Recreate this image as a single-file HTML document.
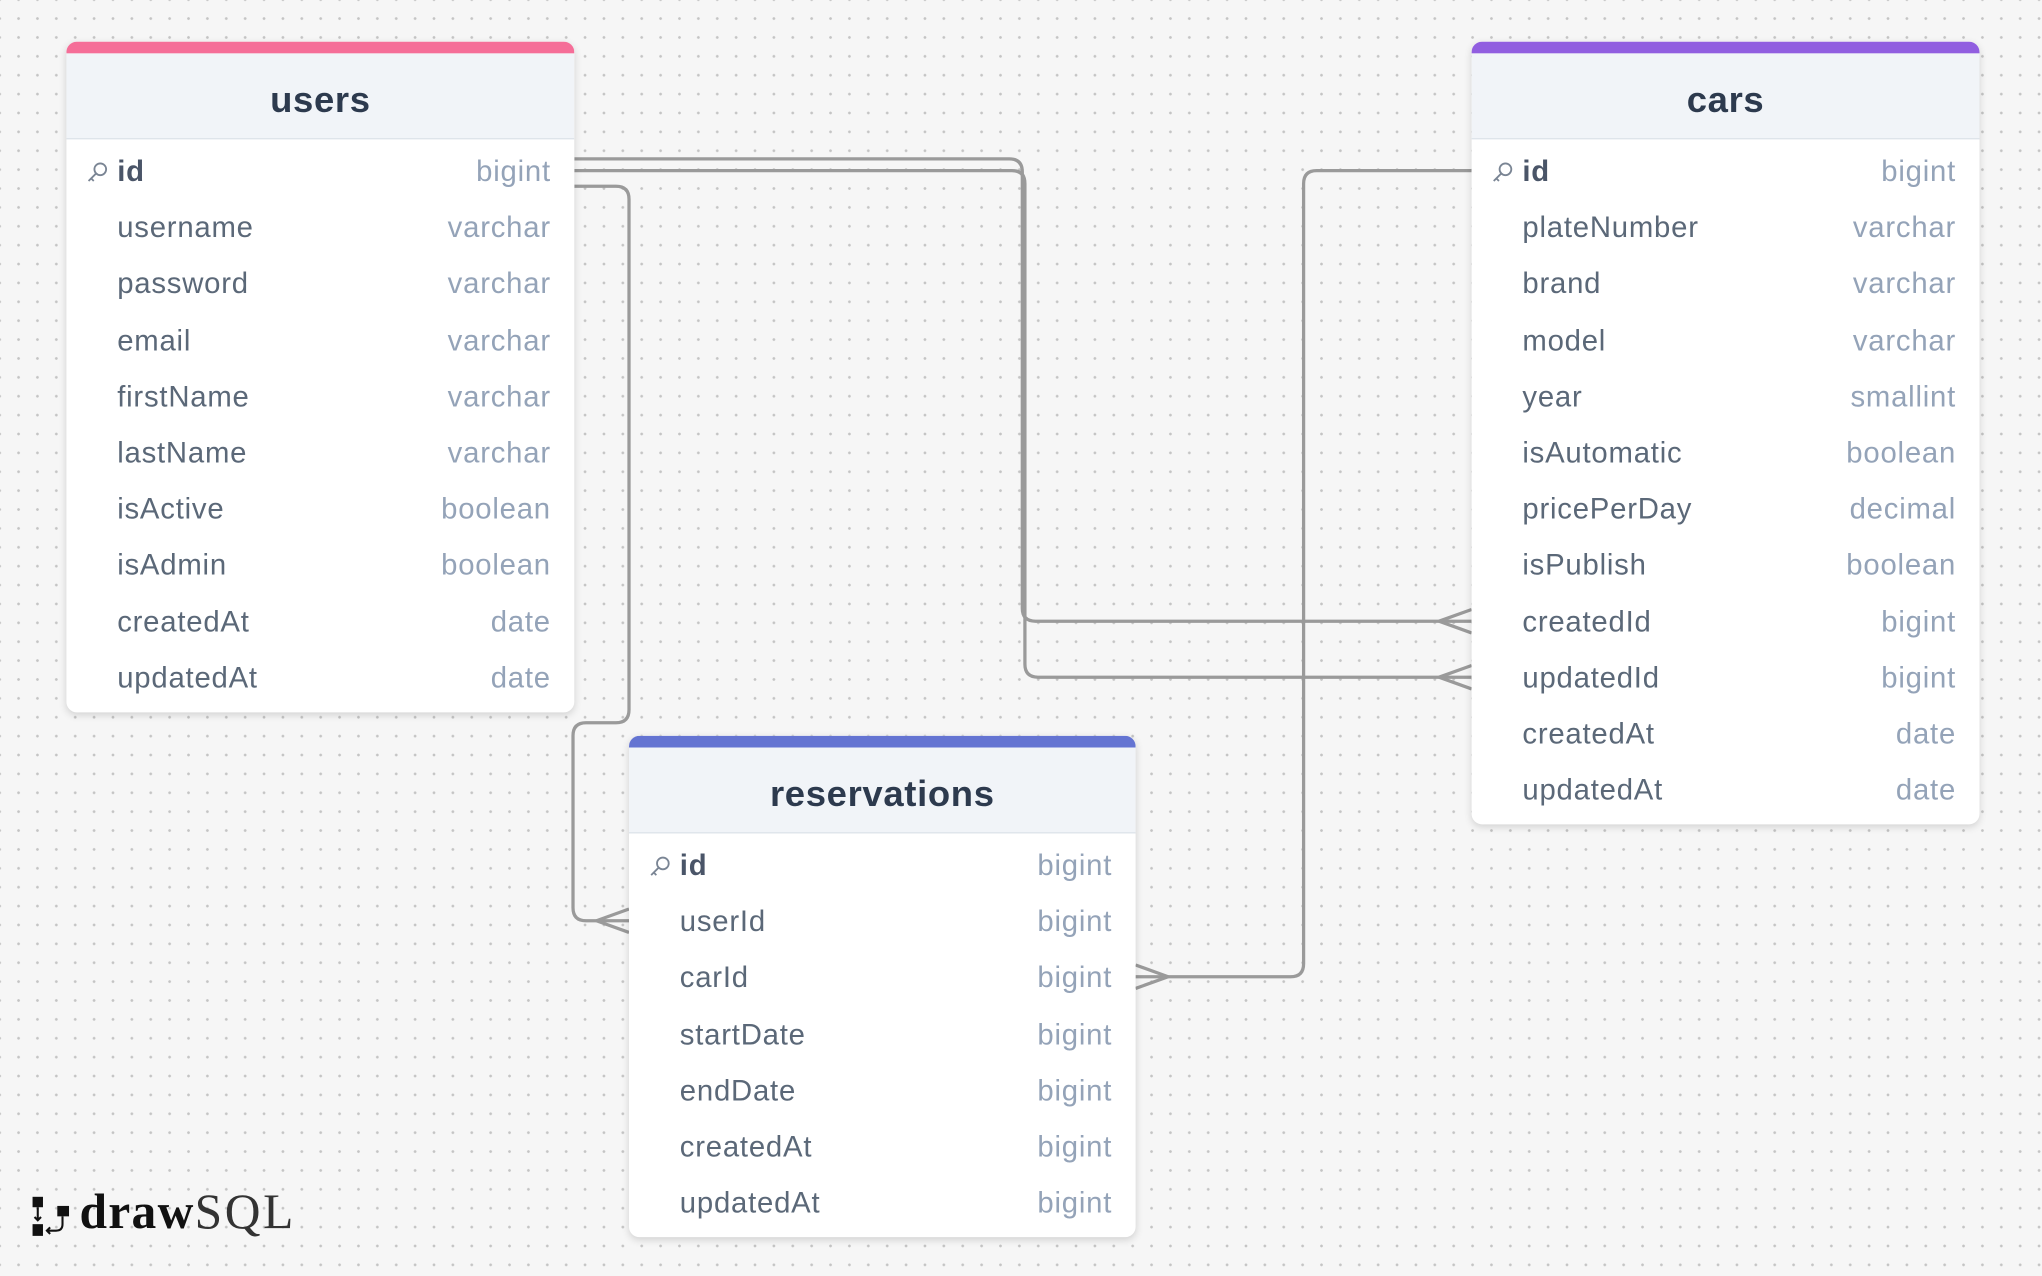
<!DOCTYPE html>
<html><head><meta charset="utf-8"><style>
html,body{margin:0;padding:0;width:2042px;height:1276px;overflow:hidden;background:#f6f6f6;}
#c{position:absolute;left:0;top:0;width:1568px;height:980px;transform:scale(1.302296);transform-origin:0 0;
background-color:#f6f6f6;background-image:radial-gradient(circle,#c4c4c4 0.9px,transparent 1.2px);background-size:14.5px 14.5px;background-position:7px 7px;
font-family:"Liberation Sans",sans-serif;}
.t{position:absolute;background:#fff;border-radius:8px;box-shadow:0 2px 6px rgba(0,0,0,.15);overflow:hidden;}
.bar{height:9px;}
.h{height:65px;background:#f1f4f8;border-bottom:1px solid #dde3ea;text-align:center;line-height:72px;font-size:28px;font-weight:bold;color:#2d3a4e;letter-spacing:0.5px;}
.rows{padding-top:3px;}
.r{height:43.2px;position:relative;font-size:22.5px;line-height:43.2px;letter-spacing:0.6px;}
.n{position:absolute;left:39px;color:#5b6878;}
.ty{position:absolute;right:18px;color:#94a3b8;}
.pk .n{font-weight:bold;color:#4a5568;}
.k{position:absolute;left:15px;top:13px;}
svg.l{position:absolute;left:0;top:0;}
</style></head><body><div id="c">
<svg class="l" width="1568" height="980" fill="none" stroke="#9a9a9a" stroke-width="2.5">
<path d="M441,122 H775 Q785,122 785,132 V467 Q785,477 795,477 H1130"/>
<path d="M441,131 H777 Q787,131 787,141 V510 Q787,520 797,520 H1130"/>
<path d="M1105,477 L1130,468 M1105,477 L1130,486 M1105,520 L1130,511 M1105,520 L1130,529"/>
<path d="M441,143 H473 Q483,143 483,153 V545 Q483,555 473,555 H450 Q440,555 440,565 V697 Q440,707 450,707 H483"/>
<path d="M458,707 L483,698 M458,707 L483,716"/>
<path d="M1130,131 H1011 Q1001,131 1001,141 V740 Q1001,750 991,750 H872"/>
<path d="M897,750 L872,741 M897,750 L872,759"/>
</svg>

<div class="t" style="left:51px;top:32px;width:390px;height:515px;">
<div class="bar" style="background:#f56e98"></div><div class="h">users</div>
<div class="rows">
<div class="r pk"><svg class="k" width="18" height="18" viewBox="0 0 18 18" fill="none" stroke="#7a8594" stroke-width="1.4"><circle cx="11" cy="7" r="4.5"/><path d="M8,10 L2,16 M4,14 L6,16"/></svg><span class="n">id</span><span class="ty">bigint</span></div>
<div class="r"><span class="n">username</span><span class="ty">varchar</span></div>
<div class="r"><span class="n">password</span><span class="ty">varchar</span></div>
<div class="r"><span class="n">email</span><span class="ty">varchar</span></div>
<div class="r"><span class="n">firstName</span><span class="ty">varchar</span></div>
<div class="r"><span class="n">lastName</span><span class="ty">varchar</span></div>
<div class="r"><span class="n">isActive</span><span class="ty">boolean</span></div>
<div class="r"><span class="n">isAdmin</span><span class="ty">boolean</span></div>
<div class="r"><span class="n">createdAt</span><span class="ty">date</span></div>
<div class="r"><span class="n">updatedAt</span><span class="ty">date</span></div>
</div></div>

<div class="t" style="left:1130px;top:32px;width:390px;height:601px;">
<div class="bar" style="background:#915ee0"></div><div class="h">cars</div>
<div class="rows">
<div class="r pk"><svg class="k" width="18" height="18" viewBox="0 0 18 18" fill="none" stroke="#7a8594" stroke-width="1.4"><circle cx="11" cy="7" r="4.5"/><path d="M8,10 L2,16 M4,14 L6,16"/></svg><span class="n">id</span><span class="ty">bigint</span></div>
<div class="r"><span class="n">plateNumber</span><span class="ty">varchar</span></div>
<div class="r"><span class="n">brand</span><span class="ty">varchar</span></div>
<div class="r"><span class="n">model</span><span class="ty">varchar</span></div>
<div class="r"><span class="n">year</span><span class="ty">smallint</span></div>
<div class="r"><span class="n">isAutomatic</span><span class="ty">boolean</span></div>
<div class="r"><span class="n">pricePerDay</span><span class="ty">decimal</span></div>
<div class="r"><span class="n">isPublish</span><span class="ty">boolean</span></div>
<div class="r"><span class="n">createdId</span><span class="ty">bigint</span></div>
<div class="r"><span class="n">updatedId</span><span class="ty">bigint</span></div>
<div class="r"><span class="n">createdAt</span><span class="ty">date</span></div>
<div class="r"><span class="n">updatedAt</span><span class="ty">date</span></div>
</div></div>

<div class="t" style="left:483px;top:565px;width:389px;height:385px;">
<div class="bar" style="background:#6474d2"></div><div class="h">reservations</div>
<div class="rows">
<div class="r pk"><svg class="k" width="18" height="18" viewBox="0 0 18 18" fill="none" stroke="#7a8594" stroke-width="1.4"><circle cx="11" cy="7" r="4.5"/><path d="M8,10 L2,16 M4,14 L6,16"/></svg><span class="n">id</span><span class="ty">bigint</span></div>
<div class="r"><span class="n">userId</span><span class="ty">bigint</span></div>
<div class="r"><span class="n">carId</span><span class="ty">bigint</span></div>
<div class="r"><span class="n">startDate</span><span class="ty">bigint</span></div>
<div class="r"><span class="n">endDate</span><span class="ty">bigint</span></div>
<div class="r"><span class="n">createdAt</span><span class="ty">bigint</span></div>
<div class="r"><span class="n">updatedAt</span><span class="ty">bigint</span></div>
</div></div>

<div style="position:absolute;left:24px;top:912px;height:40px;">
<svg style="position:absolute;left:0;top:6px" width="32" height="32" viewBox="0 0 32 32"><rect x="1" y="1" width="8" height="8" fill="#111"/><rect x="1" y="22" width="8" height="9" fill="#111"/><rect x="20" y="8" width="9" height="8" fill="#111"/><path d="M5,9 V19 M2.5,16.5 L5,19 L7.5,16.5 M24,16 V22 Q24,27 19,27 H12 M14.5,24.5 L12,27 L14.5,29.5" stroke="#111" stroke-width="1.6" fill="none"/></svg>
<span style="position:absolute;left:37px;top:-3px;font-family:'Liberation Serif',serif;font-size:38px;white-space:nowrap;color:#111;letter-spacing:1px;"><b>draw</b><span style="font-weight:normal;color:#333;letter-spacing:2px;">SQL</span></span>
</div>
</div></body></html>
